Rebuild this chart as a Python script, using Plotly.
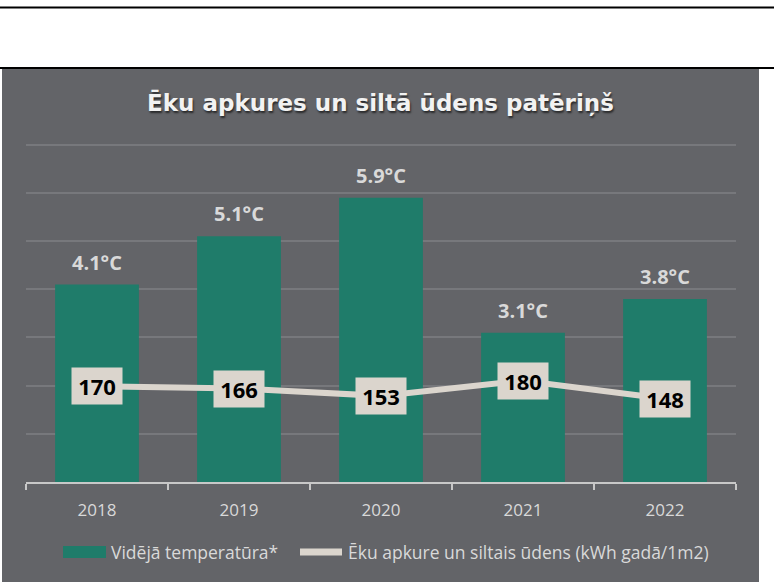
import plotly.graph_objects as go

years = ["2018", "2019", "2020", "2021", "2022"]
temperature = [4.1, 5.1, 5.9, 3.1, 3.8]
consumption = [170, 166, 153, 180, 148]
temp_labels = ["4.1°C", "5.1°C", "5.9°C", "3.1°C", "3.8°C"]

title_text = "Ēku apkures un siltā ūdens patēriņš"
legend_bar = "Vidējā temperatūra*"
legend_line = "Ēku apkure un siltais ūdens (kWh gadā/1m2)"

W, H = 774, 582
PX_PER_DEG = (482 - 145) / 7
YMAX = 7.1
L, R, B = 26, 736, 482
T = round(B - YMAX * PX_PER_DEG)
LEG_Y = 552

def px_x(p):
    return (p - L) / (R - L)

def px_y(p):
    return (B - p) / (B - T)

BG = "#636468"
GREEN = "#1f7c6a"
BEIGE = "#dbd5cd"
TXT = "#d9d9d9"
FONT = "Open Sans"

fig = go.Figure()
fig.add_trace(go.Bar(x=years, y=temperature, marker=dict(color=GREEN, line=dict(width=0)),
                     name=legend_bar, yaxis="y", hoverinfo="skip"))
fig.add_trace(go.Scatter(x=years, y=consumption, mode="lines", line=dict(color=BEIGE, width=6),
                         name=legend_line, yaxis="y2", hoverinfo="skip"))

annotations = []
for i, (t, lab) in enumerate(zip(temperature, temp_labels)):
    annotations.append(dict(x=i, y=t, xref="x", yref="y", text=lab, showarrow=False,
                            yanchor="bottom", yshift=7,
                            font=dict(family=FONT, size=20, color=TXT, weight="bold")))
for i, c in enumerate(consumption):
    annotations.append(dict(x=i, y=c, xref="x", yref="y2", text=str(c), showarrow=False,
                            bgcolor=BEIGE, width=48, height=34, borderpad=1,
                            font=dict(family=FONT, size=22, color="#000000", weight="bold")))
# manual legend texts
annotations.append(dict(x=px_x(109), y=px_y(LEG_Y), xref="paper", yref="paper", text=legend_bar,
                        showarrow=False, xanchor="left", yanchor="middle",
                        font=dict(family=FONT, size=17.5, color=TXT)))
annotations.append(dict(x=px_x(346), y=px_y(LEG_Y), xref="paper", yref="paper", text=legend_line,
                        showarrow=False, xanchor="left", yanchor="middle",
                        font=dict(family=FONT, size=17.5, color=TXT)))

shapes = [
    dict(type="rect", xref="paper", yref="paper", x0=px_x(2), x1=px_x(759), y0=px_y(582), y1=px_y(69),
         fillcolor=BG, line=dict(width=0), layer="below"),
    dict(type="line", xref="paper", yref="paper", x0=px_x(0), x1=px_x(774), y0=px_y(7.5), y1=px_y(7.5),
         line=dict(color="#000000", width=2)),
    dict(type="line", xref="paper", yref="paper", x0=px_x(0), x1=px_x(774), y0=px_y(68), y1=px_y(68),
         line=dict(color="#000000", width=2)),
    dict(type="rect", xref="paper", yref="paper", x0=px_x(63), x1=px_x(106),
         y0=px_y(LEG_Y + 6), y1=px_y(LEG_Y - 6),
         fillcolor=GREEN, line=dict(width=0)),
    dict(type="line", xref="paper", yref="paper", x0=px_x(300), x1=px_x(342),
         y0=px_y(LEG_Y), y1=px_y(LEG_Y),
         line=dict(color=BEIGE, width=7)),
]

fig.update_layout(
    width=W, height=H,
    margin=dict(l=L, r=W - R, t=T, b=H - B),
    paper_bgcolor="#ffffff", plot_bgcolor="rgba(0,0,0,0)",
    showlegend=False,
    bargap=0.41,
    title=dict(text=title_text, x=380.5 / W, xanchor="center", y=1 - 103 / H, yanchor="middle",
               yref="container",
               font=dict(family="DejaVu Sans", size=23, color="#f2f2f2", weight="bold",
                         shadow="1px 2px 2px rgba(0,0,0,0.6)")),
    xaxis=dict(type="category", range=[-0.5, len(years) - 0.5], showgrid=False, showline=True,
               linecolor="#c8c8c8", linewidth=2,
               ticks="outside", tickson="boundaries", ticklen=6, tickcolor="#c8c8c8", tickwidth=1.5,
               tickfont=dict(family=FONT, size=17, color=TXT), ticklabelstandoff=12),
    yaxis=dict(range=[0, YMAX], dtick=1, showgrid=True, gridcolor="#77787c", gridwidth=2,
               showticklabels=False, zeroline=False, showline=False),
    yaxis2=dict(range=[0, 599 * YMAX / 7], overlaying="y", side="right", showgrid=False,
                showticklabels=False, zeroline=False, showline=False),
    annotations=annotations,
    shapes=shapes,
)

fig.write_html("out.html", config={"displayModeBar": False},
               post_script="document.body.style.margin='0px';")
